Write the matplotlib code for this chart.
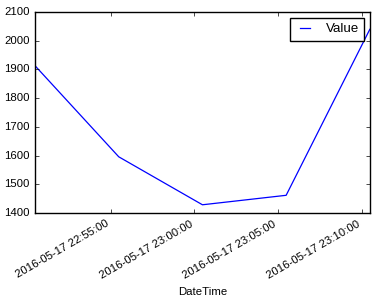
import numpy as np
import pandas as pd
import matplotlib
matplotlib.use('Agg')
import matplotlib.pyplot as plt
import matplotlib.dates as mdates

plt.style.use('classic')
plt.rcParams['font.family'] = ['Liberation Sans', 'DejaVu Sans']

# datos
times = pd.to_datetime(['2016-05-17 22:50:29', '2016-05-17 22:55:29',
                        '2016-05-17 23:00:29', '2016-05-17 23:05:29',
                        '2016-05-17 23:10:29'])
values = [1913, 1596, 1429, 1462, 2040]
y_ticks = [1400, 1500, 1600, 1700, 1800, 1900, 2000, 2100]

fig = plt.figure(figsize=(3.77, 3.01), dpi=100, facecolor='white')
ax = fig.add_axes([0.093, 0.292, 0.888, 0.668])
ax.plot(times, values, '-b', lw=0.9, label='Value')

ax.set_xlim(times[0], times[-1])
ax.set_ylim(1400, 2100)
ax.set_yticks(y_ticks)
ax.xaxis.set_major_locator(mdates.MinuteLocator(byminute=range(0, 60, 5)))
ax.xaxis.set_major_formatter(mdates.DateFormatter('%Y-%m-%d %H:%M:%S'))
ax.tick_params(labelsize=8.2, direction='in', length=3)
ax.tick_params(axis='x', which='minor', length=0)
for lab in ax.get_xticklabels():
    lab.set_rotation(30)
    lab.set_ha('right')
ax.set_xlabel('DateTime', fontsize=8.2)
ax.legend(loc='upper right', fontsize=9.6, handlelength=1.35,
          handletextpad=0.9, borderpad=0.4, borderaxespad=0.42)

fig.savefig('out.png', dpi=100, facecolor='white')
